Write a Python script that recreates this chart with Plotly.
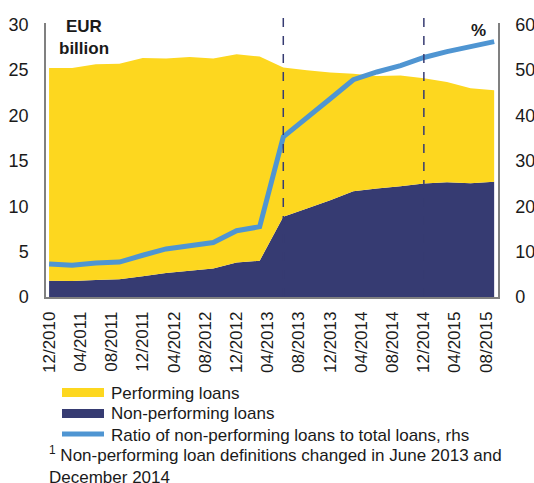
import plotly.graph_objects as go

dates = ["2010-12-01", "2011-03-01", "2011-06-01", "2011-09-01", "2011-12-01",
         "2012-03-01", "2012-06-01", "2012-09-01", "2012-12-01", "2013-03-01",
         "2013-06-01", "2013-09-01", "2013-12-01", "2014-03-01", "2014-06-01",
         "2014-09-01", "2014-12-01", "2015-03-01", "2015-06-01", "2015-09-01"]
non_performing = [1.8, 1.75, 1.87, 1.95, 2.3, 2.65, 2.9, 3.15, 3.8, 4.0,
                  8.85, 9.75, 10.65, 11.65, 11.95, 12.2, 12.5, 12.65, 12.55, 12.7]
performing = [23.45, 23.5, 23.78, 23.75, 24.05, 23.65, 23.55, 23.15, 22.95, 22.5,
              16.45, 15.25, 14.1, 12.95, 12.4, 12.2, 11.6, 11.05, 10.45, 10.1]
npl_ratio = [7.3, 7.0, 7.5, 7.7, 9.2, 10.6, 11.3, 12.0, 14.6, 15.5,
             35.3, 39.7, 43.7, 47.9, 49.6, 51.0, 52.8, 54.1, 55.2, 56.3]
tick_dates = ["2010-12-01", "2011-04-01", "2011-08-01", "2011-12-01", "2012-04-01",
              "2012-08-01", "2012-12-01", "2013-04-01", "2013-08-01", "2013-12-01",
              "2014-04-01", "2014-08-01", "2014-12-01", "2015-04-01", "2015-08-01"]
tick_labels = ["12/2010", "04/2011", "08/2011", "12/2011", "04/2012", "08/2012",
               "12/2012", "04/2013", "08/2013", "12/2013", "04/2014", "08/2014",
               "12/2014", "04/2015", "08/2015"]
break_dates = ["2013-06-01", "2014-12-01"]

YELLOW = "#FDD71F"
NAVY = "#363B72"
BLUE = "#4F95D2"
AXIS = "#808080"
FONT = "Liberation Sans, Arial, sans-serif"

W, H = 534, 483
# plot area in page pixels: x 46..498, y 23..297
L, R, T, B = 46, 534 - 498, 23, 483 - 297
PW, PH = W - L - R, H - T - B


def px(x):
    return (x - L) / PW


def py(y):
    return (H - B - y) / PH


fig = go.Figure()
fig.add_trace(go.Scatter(x=dates, y=non_performing, stackgroup="loans", mode="none",
                         fillcolor=NAVY, name="Non-performing loans", showlegend=False))
fig.add_trace(go.Scatter(x=dates, y=performing, stackgroup="loans", mode="none",
                         fillcolor=YELLOW, name="Performing loans", showlegend=False))
fig.add_trace(go.Scatter(x=dates, y=npl_ratio, mode="lines", yaxis="y2",
                         line=dict(color=BLUE, width=5), name="Ratio", showlegend=False))

for d in break_dates:
    fig.add_shape(type="line", xref="x", yref="paper", x0=d, x1=d, y0=0, y1=py(18),
                  line=dict(color=NAVY, width=1.5, dash="dash"))

fig.update_layout(
    width=W, height=H,
    margin=dict(l=L, r=R, t=T, b=B, autoexpand=False),
    paper_bgcolor="white", plot_bgcolor="white",
    font=dict(family=FONT, size=17, color="#1a1a1a"),
    xaxis=dict(type="date", range=["2010-11-19", "2015-09-16"],
               tickvals=tick_dates, ticktext=tick_labels, tickangle=-90,
               showgrid=False, zeroline=False, showline=True, linecolor=AXIS, linewidth=1.5,
               ticks="", ticklabelstandoff=6, tickfont=dict(size=17), automargin=False),
    yaxis=dict(range=[0, 30.2], tickvals=[0, 5, 10, 15, 20, 25, 30],
               showgrid=False, zeroline=False, showline=True, linecolor=AXIS, linewidth=1.5,
               ticks="", ticklabelstandoff=12, tickfont=dict(size=18), automargin=False),
    yaxis2=dict(range=[0, 60.4], tickvals=[0, 10, 20, 30, 40, 50, 60], overlaying="y", side="right",
                showgrid=False, zeroline=False, showline=True, linecolor=AXIS, linewidth=1.5,
                ticks="", ticklabelstandoff=12, tickfont=dict(size=18), automargin=False),
    showlegend=False,
)

annos = [
    dict(x=px(84), y=py(27), text="<b>EUR</b>", xanchor="center", yanchor="middle"),
    dict(x=px(84), y=py(48), text="<b>billion</b>", xanchor="center", yanchor="middle"),
    dict(x=px(478), y=py(31), text="<b>%</b>", xanchor="center", yanchor="middle"),
    dict(x=px(109), y=py(393), text="Performing loans", xanchor="left", yanchor="middle"),
    dict(x=px(109), y=py(414), text="Non-performing loans", xanchor="left", yanchor="middle"),
    dict(x=px(109), y=py(435), text="Ratio of non-performing loans to total loans, rhs",
         xanchor="left", yanchor="middle"),
    dict(x=px(47), y=py(465),
         text="<sup>1</sup> Non-performing loan definitions changed in June 2013 and<br>December 2014",
         xanchor="left", yanchor="middle", align="left"),
]
for a in annos:
    a.update(xref="paper", yref="paper", showarrow=False, font=dict(size=17))
    fig.add_annotation(**a)

fig.add_shape(type="rect", xref="paper", yref="paper", x0=px(62), x1=px(104), y0=py(397), y1=py(388),
              fillcolor=YELLOW, line=dict(width=0))
fig.add_shape(type="rect", xref="paper", yref="paper", x0=px(62), x1=px(104), y0=py(418), y1=py(409),
              fillcolor=NAVY, line=dict(width=0))
fig.add_shape(type="line", xref="paper", yref="paper", x0=px(62), x1=px(104), y0=py(434), y1=py(434),
              line=dict(color=BLUE, width=5))

fig.write_html("out.html", config={"displayModeBar": False},
               post_script="document.body.style.margin='0';document.body.style.overflow='hidden';")
